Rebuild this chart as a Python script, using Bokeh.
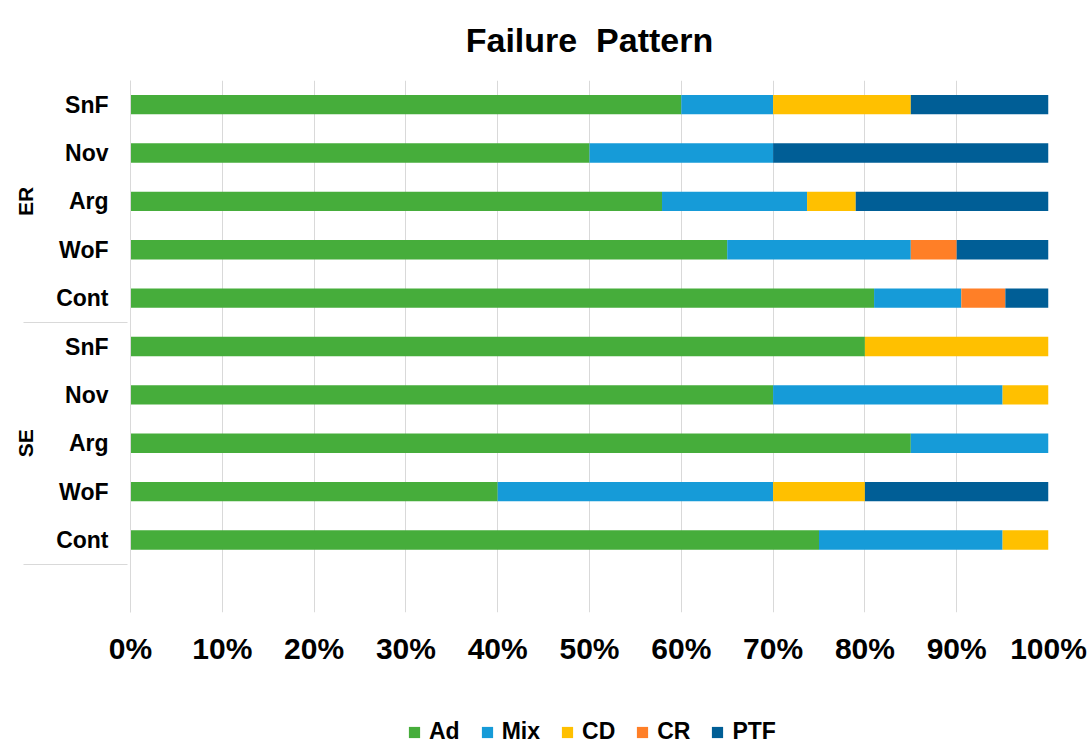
from bokeh.plotting import figure
from bokeh.layouts import column
from bokeh.models import (FactorRange, Range1d, Legend, LegendItem, FixedTicker,
                          PrintfTickFormatter, ColumnDataSource)
from bokeh.embed import file_html
from bokeh.resources import INLINE

# ---------------- data ----------------
groups = ["ER", "SE"]
categories = ["SnF", "Nov", "Arg", "WoF", "Cont"]
series = ["Ad", "Mix", "CD", "CR", "PTF"]
colors = ["#46AD3B", "#169BD8", "#FFC000", "#FF7F27", "#005E96"]

ER_Ad = [60, 50, 57.9, 65, 81.0]
ER_Mix = [10, 20, 15.8, 20, 9.5]
ER_CD = [15, 0, 5.3, 0, 0]
ER_CR = [0, 0, 0, 5, 4.8]
ER_PTF = [15, 30, 21.0, 10, 4.7]

SE_Ad = [80, 70, 85, 40, 75]
SE_Mix = [0, 25, 15, 30, 20]
SE_CD = [20, 5, 0, 10, 5]
SE_CR = [0, 0, 0, 0, 0]
SE_PTF = [0, 0, 0, 20, 0]

x_ticks = [0, 10, 20, 30, 40, 50, 60, 70, 80, 90, 100]
title_text = "Failure \u00a0Pattern"

FONT = "Liberation Sans"
GRID = "#d9d9d9"

# ---------------- build ----------------
rows = []
vals = {s: [] for s in series}
er = dict(zip(series, [ER_Ad, ER_Mix, ER_CD, ER_CR, ER_PTF]))
se = dict(zip(series, [SE_Ad, SE_Mix, SE_CD, SE_CR, SE_PTF]))
for g, d in (("ER", er), ("SE", se)):
    for i, c in enumerate(categories):
        rows.append((g, c))
        for s in series:
            vals[s].append(d[s][i])

source = ColumnDataSource(dict(y=rows, **vals))

# bottom-to-top order; blank slot at the bottom
factors = [(" ", " ")]
for g in reversed(groups):
    for c in reversed(categories):
        factors.append((g, c))

y_range = FactorRange(factors=factors, factor_padding=0, group_padding=0,
                      subgroup_padding=0, range_padding=0)

p = figure(y_range=y_range, x_range=Range1d(0, 100),
           frame_width=918, frame_height=532,
           min_border_left=130, min_border_top=80, min_border_right=43,
           min_border_bottom=104,
           output_backend="svg", toolbar_location=None,
           title=title_text)

rs = p.hbar_stack(series, y="y", height=0.4, color=colors, source=source,
                  line_width=0)

# title
p.title.align = "center"
p.title.vertical_align = "top"
p.title.text_font = FONT
p.title.text_font_size = "34px"
p.title.text_font_style = "bold"
p.title.text_color = "black"
p.title.standoff = 40

# x axis
xa = p.xaxis[0]
xa.ticker = FixedTicker(ticks=x_ticks)
xa.formatter = PrintfTickFormatter(format="%d%%")
xa.axis_line_color = None
xa.major_tick_line_color = None
xa.minor_tick_line_color = None
xa.major_label_text_font = FONT
xa.major_label_text_font_size = "30px"
xa.major_label_text_font_style = "bold"
xa.major_label_text_color = "black"
xa.major_label_standoff = 13

# y axis
ya = p.yaxis[0]
ya.axis_line_color = GRID
ya.major_tick_line_color = None
ya.minor_tick_line_color = None
ya.major_label_text_font = FONT
ya.major_label_text_font_size = "23px"
ya.major_label_text_font_style = "bold"
ya.major_label_text_color = "black"
ya.major_label_standoff = 16
ya.group_text_font = FONT
ya.group_text_font_size = "21px"
ya.group_text_font_style = "bold"
ya.group_text_color = "black"
ya.separator_line_color = GRID
ya.separator_line_width = 1

p.ygrid.grid_line_color = None
p.xgrid.grid_line_color = GRID
p.xgrid.grid_line_width = 1
p.outline_line_color = None

# ---------------- legend strip ----------------
lf = figure(width=1091, height=30, x_axis_location=None, y_axis_location=None,
            x_range=Range1d(0, 1), y_range=Range1d(0, 1),
            min_border=0, output_backend="svg", toolbar_location=None)
lf.outline_line_color = None
lf.grid.grid_line_color = None
items = []
for s, c in zip(series, colors):
    # zero-width swatch renderers, used only to draw the legend keys
    r = lf.hbar(y=[-5], left=[-5], right=[-5], height=0.5, color=c, line_width=0)
    items.append(LegendItem(label=s, renderers=[r]))
legend = Legend(items=items, orientation="horizontal", location=(277, 1),
                border_line_color=None, background_fill_alpha=0,
                label_text_font=FONT, label_text_font_style="bold",
                label_text_font_size="23px", label_text_color="black",
                glyph_width=14, glyph_height=14, label_standoff=8,
                spacing=20, padding=0, margin=0)
lf.add_layout(legend)

layout = column(p, lf, spacing=0)

open("out.html", "w").write(file_html(layout, INLINE))
